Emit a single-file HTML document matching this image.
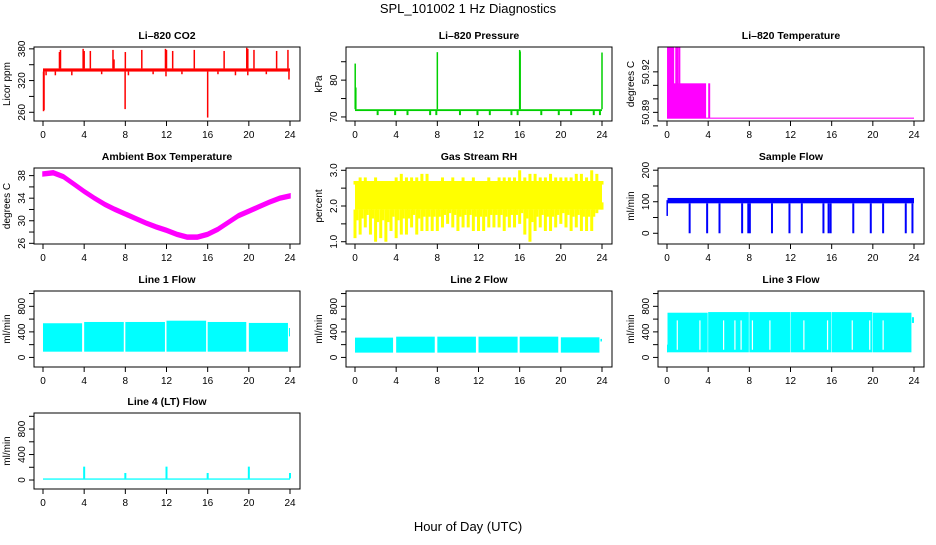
<!DOCTYPE html>
<html><head><meta charset="utf-8">
<style>
body{margin:0;background:#fff;}
svg text{font-family:"Liberation Sans",Arial,sans-serif;fill:#000;}
</style></head>
<body>
<svg id="c" width="936" height="540" viewBox="0 0 936 540" xmlns="http://www.w3.org/2000/svg">
<rect width="936" height="540" fill="#fff"/>
<text x="468" y="13" text-anchor="middle" font-size="13">SPL_101002  1 Hz Diagnostics</text>
<text x="468" y="531" text-anchor="middle" font-size="13">Hour of Day (UTC)</text>
</svg>
<script>
// ---- shared axis data ----
const xTicks = [0,4,8,12,16,20,24];
// ---- CO2 ----
const co2Base = [337,343];
const co2UpHours = [1.6,1.7,3.9,4.0,4.6,6.8,6.9,8.0,9.6,11.9,12.0,12.6,14.7,17.6,19.8,19.9,20.5,22.7,23.8];
const co2UpVals = [374,378,380,376,376,378,360,374,378,380,378,376,378,376,382,380,378,376,378];
const co2DnHours = [0.05,0.1,0.3,1.2,2.8,5.7,7.98,8.3,10.7,11.95,13.5,16.0,17.0,18.7,19.9,21.7,23.9];
const co2DnVals = [262,264,330,330,330,332,266,330,332,328,332,250,332,330,330,332,322];
// ---- Pressure ----
const presBase = [71.6,72.1];
const presDipHours = [2.2,3.9,5.1,7.3,7.9,10.2,11.9,13.1,15.2,15.8,18.1,19.8,21.0,23.2,23.8];
const presDipVals = [70.5,70.5,70.5,70.5,70.5,70.5,70.5,70.5,70.5,70.5,70.5,70.5,70.5,70.5,70.5];
const presSpikeHours = [0.02,0.08,8.0,16.0,16.05,24.0];
const presSpikeVals = [84.5,78.0,87.6,88.2,87.8,87.5];
// ---- Li-820 Temperature ----
const tempBandEnd = 3.8;
const tempBandLo = 50.8857;
const tempBandHi = 50.9115;
const tempSpikeHours = [0.1,0.2,0.3,0.4,0.5,0.6,0.9,1.0,1.2,4.1];
const tempSpikeVals = [50.938,50.938,50.938,50.938,50.938,50.938,50.938,50.938,50.938,50.9115];
// ---- Ambient ----
const ambHours = [0,1,2,3,4,5,6,7,8,9,10,11,12,13,14,15,16,17,18,19,20,21,22,23,24];
const ambVals = [38.3,38.5,37.8,36.5,35.2,34.0,32.9,32.0,31.2,30.4,29.6,28.9,28.3,27.6,27.1,27.1,27.6,28.5,29.7,30.9,31.7,32.5,33.3,34.0,34.4];
// ---- RH ----
const rhHours = [0,0.5,1,1.5,2,2.5,3,3.5,4,4.5,5,5.5,6,6.5,7,7.5,8,8.5,9,9.5,10,10.5,11,11.5,12,12.5,13,13.5,14,14.5,15,15.5,16,16.5,17,17.5,18,18.5,19,19.5,20,20.5,21,21.5,22,22.5,23,23.5,24];
const rhLo = [1.1,1.2,1.4,1.2,1.0,1.1,1.0,1.3,1.1,1.2,1.2,1.4,1.2,1.3,1.3,1.3,1.3,1.4,1.5,1.4,1.3,1.4,1.4,1.3,1.3,1.3,1.4,1.4,1.4,1.3,1.4,1.4,1.5,1.2,1.0,1.3,1.4,1.3,1.3,1.4,1.5,1.4,1.3,1.4,1.3,1.3,1.3,1.8,2.1];
const rhHi = [2.7,2.8,2.8,2.7,2.8,2.7,2.7,2.7,2.8,2.9,2.8,2.8,2.8,2.9,2.9,2.7,2.7,2.8,2.7,2.8,2.7,2.8,2.7,2.8,2.7,2.7,2.8,2.7,2.8,2.8,2.8,2.8,3.0,2.8,2.9,2.9,2.8,2.8,2.9,2.8,2.8,2.8,2.8,2.9,2.9,2.8,3.0,2.9,2.7];
const rhCore = 1.9;
// ---- Sample flow ----
const sfBand = [95,112];
const sfDipHours = [2.2,3.9,5.1,7.3,7.9,8.05,10.2,11.9,13.1,15.2,15.7,15.9,18.1,19.8,21.0,23.2,23.85];
const sfDipVals = [0,0,0,0,0,0,0,0,0,0,0,0,0,0,0,0,0];
// ---- Line flows ----
const l1Start = [0,4,8,12,16,20];
const l1End = [3.8,7.85,11.85,15.85,19.75,23.8];
const l1Hi = [535,555,555,575,555,540];
const l1Lo = [90,90,90,90,90,90];
const l2Start = [0,4,8,12,16,20];
const l2End = [3.7,7.75,11.75,15.8,19.75,23.75];
const l2Hi = [310,325,325,325,325,315];
const l2Lo = [75,75,75,75,75,75];
const l3Start = [0.05,4.0,8.0,12.0,16.0,20.0];
const l3End = [3.95,7.95,11.95,15.95,19.95,23.75];
const l3Hi = [700,710,710,710,710,700];
const l3Lo = [80,80,80,80,80,80];
const l3GapHours = [1.0,3.2,5.5,6.6,7.2,8.3,10.0,13.3,15.6,18.0,19.7,21.0];
const l4Base = [5,25];
const l4SpikeHours = [4,8,12,16,20,24];
const l4SpikeVals = [210,110,210,110,210,110];

// ---- layout ----
const colLeft = [34,346,658], boxW = 266;
const rowTop = [47,168,291,413], boxH = [74,76,76,76];
const svg = document.getElementById('c');
const NS = 'http://www.w3.org/2000/svg';
function mk(tag, attrs, parent){
  const e = document.createElementNS(NS, tag);
  for (const k in attrs) e.setAttribute(k, attrs[k]);
  (parent||svg).appendChild(e);
  return e;
}
function panel(name, col, row, title, ylab, ylim, ticks, labels){
  const L = colLeft[col], T = rowTop[row], H = boxH[row];
  const g = mk('g', {});
  
  
  const xs = h => L + 9 + h/24*(boxW-19);
  const ys = v => T + H - (v - ylim[0])/(ylim[1]-ylim[0])*H;
  const t = mk('text', {x: L+boxW/2, y: T-8, 'text-anchor':'middle', 'font-size':'10.5', 'font-weight':'bold'}, g);
  t.textContent = title;
  
  
  const yl = mk('text', {x:0, y:0, 'text-anchor':'middle', 'font-size':'10', transform:`translate(${L-24},${T+H/2}) rotate(-90)`}, g);
  yl.textContent = ylab;
  
  
  // x axis
  const xa = mk('g', {}, g);
  
  
  xTicks.forEach(v => {
    mk('line', {x1:xs(v), x2:xs(v), y1:T+H, y2:T+H+5, stroke:'#000'}, xa);
    const tl = mk('text', {x:xs(v), y:T+H+17, 'text-anchor':'middle', 'font-size':'10'}, xa);
    tl.textContent = v;
  });
  const ya = mk('g', {}, g);
  
  
  ticks.forEach((v,i) => {
    mk('line', {x1:L-5, x2:L, y1:ys(v), y2:ys(v), stroke:'#000'}, ya);
    if (labels[i] !== '') {
      const tl = mk('text', {x:0, y:0, 'text-anchor':'middle', 'font-size':'10', transform:`translate(${L-9},${ys(v)}) rotate(-90)`}, ya);
      tl.textContent = labels[i];
    }
  });
  const data = mk('g', {}, g);
  
  
  const box = mk('rect', {x:L, y:T, width:boxW, height:H, fill:'none', stroke:'#000'}, g);
  
  
  return {xs, ys, g:data};
}
function band(p, h0, h1, lo, hi, color){
  mk('rect', {x:p.xs(h0), y:p.ys(hi), width:Math.max(1,p.xs(h1)-p.xs(h0)), height:Math.max(1,p.ys(lo)-p.ys(hi)), fill:color}, p.g);
}
function vl(p, h, a, b, color, w){
  mk('line', {x1:p.xs(h), x2:p.xs(h), y1:p.ys(a), y2:p.ys(b), stroke:color, 'stroke-width':w||1.5}, p.g);
}

// CO2
let p = panel('co2', 0, 0, 'Li\u2013820 CO2', 'Licor ppm', [243.5,383.5], [260,290,320,350,380], ['260','','320','','380']);
band(p, 0, 24, co2Base[0], co2Base[1], '#ff0000');
co2UpHours.forEach((h,i) => vl(p, h, co2Base[1], co2UpVals[i], '#ff0000'));
co2DnHours.forEach((h,i) => vl(p, h, co2Base[0], co2DnVals[i], '#ff0000'));
// Pressure
p = panel('pressure', 1, 0, 'Li\u2013820 Pressure', 'kPa', [68.9,89.0], [70,75,80,85], ['70','','80','']);
band(p, 0, 24, presBase[0], presBase[1], '#00d000');
presDipHours.forEach((h,i) => vl(p, h, presBase[0], presDipVals[i], '#00d000', 2));
presSpikeHours.forEach((h,i) => vl(p, h, presBase[1], presSpikeVals[i], '#00d000', 1.5));
// Temperature
p = panel('li820-temp', 2, 0, 'Li\u2013820 Temperature', 'degrees C', [50.8836,50.9384], [50.88,50.89,50.90,50.91,50.92], ['','50.89','','','50.92']);
band(p, 0, tempBandEnd, tempBandLo, tempBandHi, '#ff00ff');
band(p, 0, 24, tempBandLo-0.0004, tempBandLo+0.0004, '#ff00ff');
tempSpikeHours.forEach((h,i) => vl(p, h, tempBandLo, tempSpikeVals[i], '#ff00ff', 2));
// Ambient
p = panel('ambient-temp', 0, 1, 'Ambient Box Temperature', 'degrees C', [25.88,39.35], [26,28,30,32,34,36,38], ['26','','30','','34','','38']);
{
  const up = ambHours.map((h,i) => `${p.xs(h)},${p.ys(ambVals[i]+0.35)}`);
  const dn = ambHours.map((h,i) => `${p.xs(h)},${p.ys(ambVals[i]-0.35)}`).reverse();
  mk('polygon', {points: up.concat(dn).join(' '), fill:'#ff00ff', stroke:'#ff00ff', 'stroke-width':1.5}, p.g);
}
// RH
p = panel('gas-rh', 1, 1, 'Gas Stream RH', 'percent', [0.936,3.064], [1.0,1.5,2.0,2.5,3.0], ['1.0','','2.0','','3.0']);
band(p, 0, 24, rhCore, 2.7, '#ffff00');
rhHours.forEach((h,i) => {
  vl(p, h, rhLo[i], rhCore, '#ffff00', 3);
  vl(p, Math.min(24,h+0.2), (rhLo[i]+rhCore)/2+0.1, rhCore, '#ffff00', 3);
  vl(p, h, 2.6, rhHi[i], '#ffff00', 3);
});
// Sample flow
p = panel('sample-flow', 2, 1, 'Sample Flow', 'ml/min', [-34,207], [0,50,100,150,200], ['0','','100','','200']);
band(p, 0.05, 24, sfBand[0], sfBand[1], '#0000ff');
vl(p, 0.02, 55, 105, '#0000ff', 1.5);
sfDipHours.forEach((h,i) => vl(p, h, sfBand[0], sfDipVals[i], '#0000ff', 2));
// Line flows
function flow(name, col, row, title, st, en, hi, lo){
  const q = panel(name, col, row, title, 'ml/min', [-150,1040], [0,200,400,600,800,1000], ['0','','400','','800','']);
  st.forEach((s,i) => band(q, s, en[i], lo[i], hi[i], '#00ffff'));
  return q;
}
p = flow('line1-flow', 0, 2, 'Line 1 Flow', l1Start, l1End, l1Hi, l1Lo);
band(p, 23.9, 24, 330, 460, '#00ffff');
p = flow('line2-flow', 1, 2, 'Line 2 Flow', l2Start, l2End, l2Hi, l2Lo);
band(p, 23.85, 24, 250, 290, '#00ffff');
p = flow('line3-flow', 2, 2, 'Line 3 Flow', l3Start, l3End, l3Hi, l3Lo);
band(p, 0, 0.05, 80, 200, '#00ffff');
band(p, 23.8, 24, 540, 630, '#00ffff');
l3GapHours.forEach(h => vl(p, h, 120, 580, '#ffffff', 1.2));
p = panel('line4-flow', 0, 3, 'Line 4 (LT) Flow', 'ml/min', [-141,1052], [0,200,400,600,800,1000], ['0','','400','','800','']);
band(p, 0, 24, l4Base[0], l4Base[1], '#00ffff');
l4SpikeHours.forEach((h,i) => vl(p, h, l4Base[1], l4SpikeVals[i], '#00ffff', 2));
</script>
</body></html>
